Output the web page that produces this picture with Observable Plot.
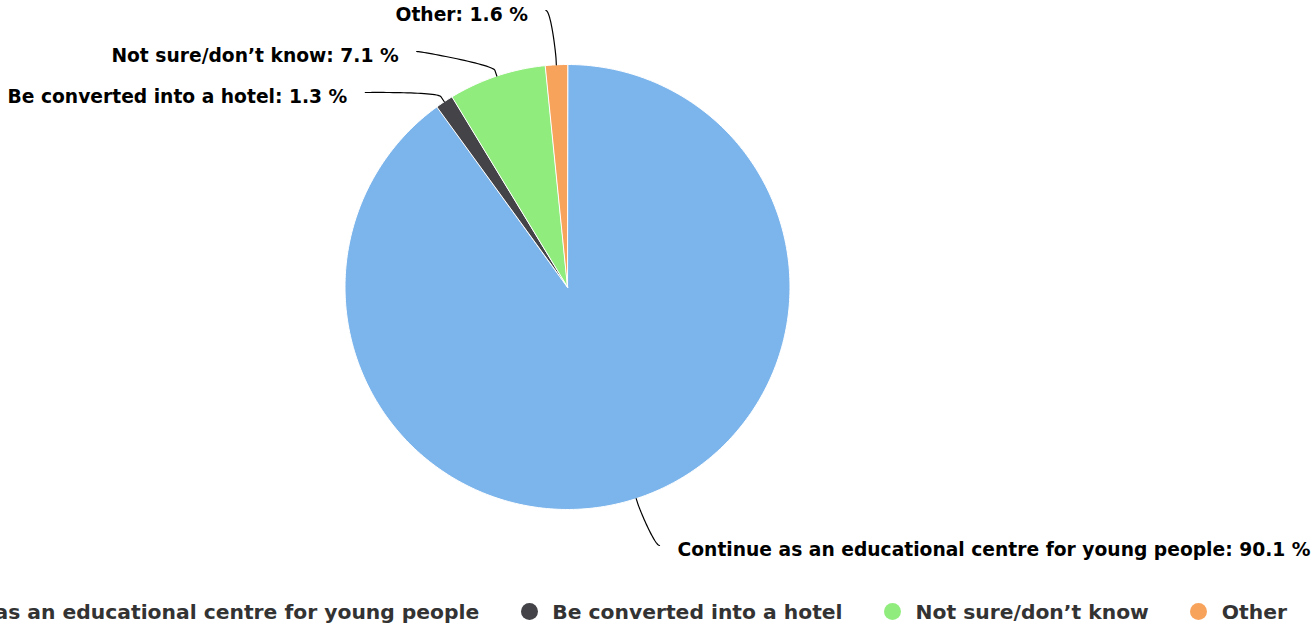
<!DOCTYPE html>
<html><head><meta charset="utf-8">
<script src="https://cdn.jsdelivr.net/npm/d3@7"></script>
<script src="https://cdn.jsdelivr.net/npm/@observablehq/plot@0.6"></script>
<style>
html,body{margin:0;padding:0;background:#fff;overflow:hidden;width:1313px;height:625px}
#chart svg{display:block}
#legend{display:flex;justify-content:flex-end;align-items:center;height:27px;padding-right:26px;font:bold 20.3px "DejaVu Sans",sans-serif;color:#333;white-space:nowrap;width:1287px}
#legend .item{display:flex;align-items:center;flex-shrink:0;margin-left:41.5px}
#legend .sw{width:17px;height:17px;border-radius:50%;margin-right:14.5px;flex-shrink:0}
</style></head>
<body><div id="chart"></div><div id="legend"></div>
<script>
// ---- data ----
const categories = ["Continue as an educational centre for young people", "Be converted into a hotel", "Not sure/don’t know", "Other"];
const shares = [90.1, 1.3, 7.1, 1.6];
const colors = ["#7cb5ec", "#434348", "#90ed7d", "#f7a35c"];

// ---- layout ----
const W = 1313, H = 598, cx = 567, cy = 286.5, r = 222.5;
const R0 = 277, pad = 5, gap = 18, lineGap = 41, minTextY = 15, breakOff = 6;
const labelFont = 'bold 18.7px "DejaVu Sans"';
const ux = px => (px - cx) / r;
const uy = py => (cy - py) / r;

const rows = categories.map((name, i) => ({name, share: shares[i], color: colors[i]}));
const arcs = d3.pie().sort(null).value(d => d.share)(rows);

// slice polygons
const slices = arcs.map(a => {
  const n = Math.max(2, Math.ceil((a.endAngle - a.startAngle) / (2 * Math.PI) * 360));
  const pts = [{x: 0, y: 0}];
  for (let k = 0; k <= n; k++) {
    const t = a.startAngle + (a.endAngle - a.startAngle) * k / n;
    pts.push({x: Math.sin(t), y: Math.cos(t)});
  }
  return {name: a.data.name, color: a.data.color, pts};
});

// label measurement
const ctx = document.createElement("canvas").getContext("2d");
ctx.font = labelFont;

const labels = arcs.map(a => {
  const th = (a.startAngle + a.endAngle) / 2;
  const left = th > Math.PI;
  const text = `${a.data.name}: ${a.data.share} %`;
  return {th, left, text, natY: cy - R0 * Math.cos(th), w: ctx.measureText(text).width};
});
for (const side of [true, false]) {
  const grp = labels.filter(l => l.left === side).sort((p, q) => p.natY - q.natY);
  let prev = -Infinity;
  for (const l of grp) { l.textY = Math.max(l.natY, prev + lineGap, minTextY); prev = l.textY; }
}
const connectors = [];
for (const l of labels) {
  const connY = l.textY - 5;
  const dy = connY - cy;
  const off = Math.sqrt(Math.max(0, R0 * R0 - dy * dy)) + pad;
  let Lx = l.left ? cx - off : cx + off;
  if (l.left) Lx = Math.max(Lx, 3 + gap + l.w); else Lx = Math.min(Lx, W - 3 - gap - l.w);
  const T = [cx + r * Math.sin(l.th), cy - r * Math.cos(l.th)];
  const B = [cx + (r + breakOff) * Math.sin(l.th), cy - (r + breakOff) * Math.cos(l.th)];
  const P0 = [Lx, connY], P1 = [Lx + (l.left ? 5 : -5), connY], P2 = [2 * B[0] - T[0], 2 * B[1] - T[1]], P3 = B;
  const N = 30;
  for (let k = 0; k <= N; k++) {
    const t = k / N, u = 1 - t;
    const px = u*u*u*P0[0] + 3*u*u*t*P1[0] + 3*u*t*t*P2[0] + t*t*t*P3[0];
    const py = u*u*u*P0[1] + 3*u*u*t*P1[1] + 3*u*t*t*P2[1] + t*t*t*P3[1];
    connectors.push({id: l.text, x: ux(px), y: uy(py)});
  }
  connectors.push({id: l.text, x: ux(T[0]), y: uy(T[1])});
  l.x = ux(l.left ? Lx - gap : Lx + gap);
  l.y = uy(l.textY);
}

const textOpts = {x: "x", y: "y", text: "text", fontSize: 18.7, fontWeight: "bold", fontFamily: "DejaVu Sans", fill: "#000"};
const chart = Plot.plot({
  width: W, height: H, margin: 0,
  x: {domain: [ux(0), ux(W)], axis: null},
  y: {domain: [uy(H), uy(0)], axis: null},
  style: {background: "#fff", overflow: "visible"},
  marks: [
    ...slices.map(s => Plot.line(s.pts, {x: "x", y: "y", fill: s.color, stroke: "#fff", strokeWidth: 1, curve: "linear-closed"})),
    Plot.line(connectors, {x: "x", y: "y", z: "id", stroke: "#000", strokeWidth: 1.2}),
    Plot.text(labels.filter(l => l.left), {...textOpts, textAnchor: "end"}),
    Plot.text(labels.filter(l => !l.left), {...textOpts, textAnchor: "start"})
  ]
});
document.getElementById("chart").appendChild(chart);

// legend
const legend = document.getElementById("legend");
rows.forEach(d => {
  const item = document.createElement("div");
  item.className = "item";
  const sw = document.createElement("span");
  sw.className = "sw"; sw.style.background = d.color;
  const tx = document.createElement("span");
  tx.textContent = d.name;
  item.appendChild(sw); item.appendChild(tx);
  legend.appendChild(item);
});
</script>
</body></html>
